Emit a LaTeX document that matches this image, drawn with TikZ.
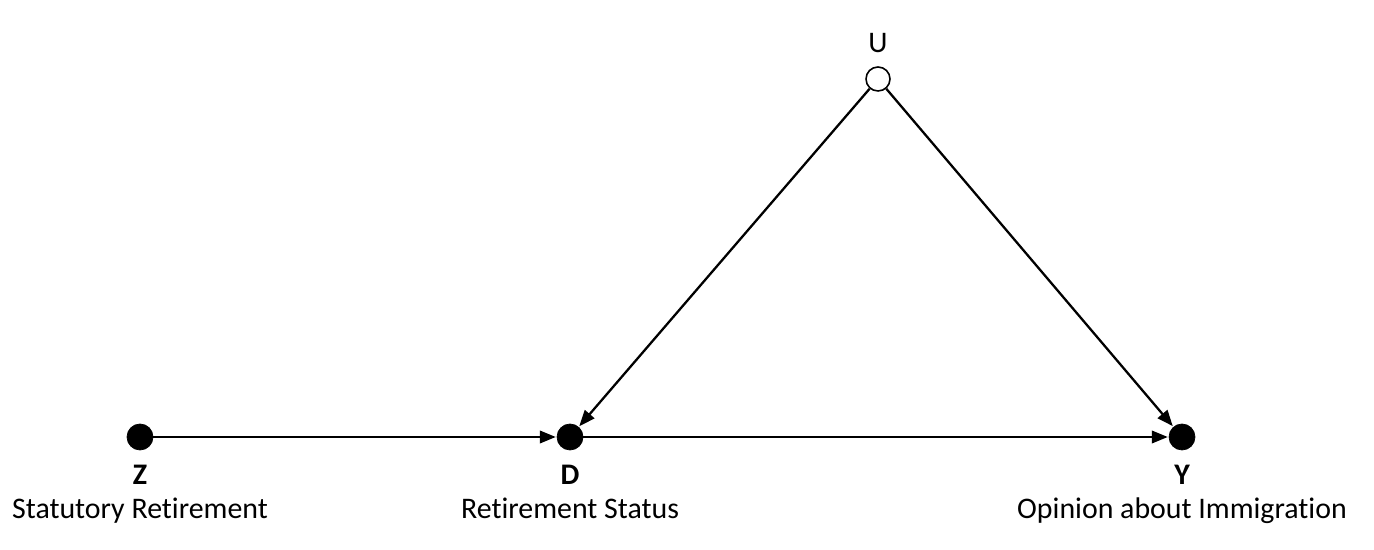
\documentclass[tikz,border=0pt]{standalone}
\usepackage{fontspec}
\setmainfont{Carlito}[Ligatures=NoCommon]
\usetikzlibrary{arrows.meta,positioning}

\tikzset{
  obs/.style={circle, fill=black, draw=black, inner sep=0pt, minimum size=0.52cm},
  unobs/.style={circle, fill=white, draw=black, line width=0.9pt, inner sep=0pt, minimum size=0.48cm},
  varname/.style={font=\fontsize{17}{20}\selectfont\bfseries, inner sep=0pt, anchor=base},
  vardesc/.style={font=\fontsize{17}{20}\selectfont, inner sep=0pt, anchor=base},
  effect/.style={-{Triangle[length=0.32cm, width=0.25cm]}, line width=1.3pt, shorten >=0.5pt}
}

\begin{document}
\begin{tikzpicture}
\useasboundingbox (0cm,0cm) rectangle (27.48cm,11cm);
% nodes
\node[obs] (Z) at (2.8 cm,2.26cm) {};
\node[obs] (D) at (11.4 cm,2.26cm) {};
\node[obs] (Y) at (23.64 cm,2.26cm) {};
\node[unobs] (U) at (17.56 cm,9.42cm) {};
% labels
\node[varname] (Zl) at (2.8 cm,1.3cm) {Z};
\node[varname] (Dl) at (11.4 cm,1.3cm) {D};
\node[varname] (Yl) at (23.64 cm,1.3cm) {Y};
\node[vardesc] (Ul) at (17.56 cm,9.94cm) {U};
\node[vardesc] (Zd) at (2.8 cm,0.62cm) {Statutory Retirement};
\node[vardesc] (Dd) at (11.4 cm,0.62cm) {Retirement Status};
\node[vardesc] (Yd) at (23.64 cm,0.62cm) {Opinion about Immigration};
% arrows
\draw[effect] (Z) -- (D);
\draw[effect] (D) -- (Y);
\draw[effect] (U) -- (D);
\draw[effect] (U) -- (Y);
\end{tikzpicture}
\end{document}
